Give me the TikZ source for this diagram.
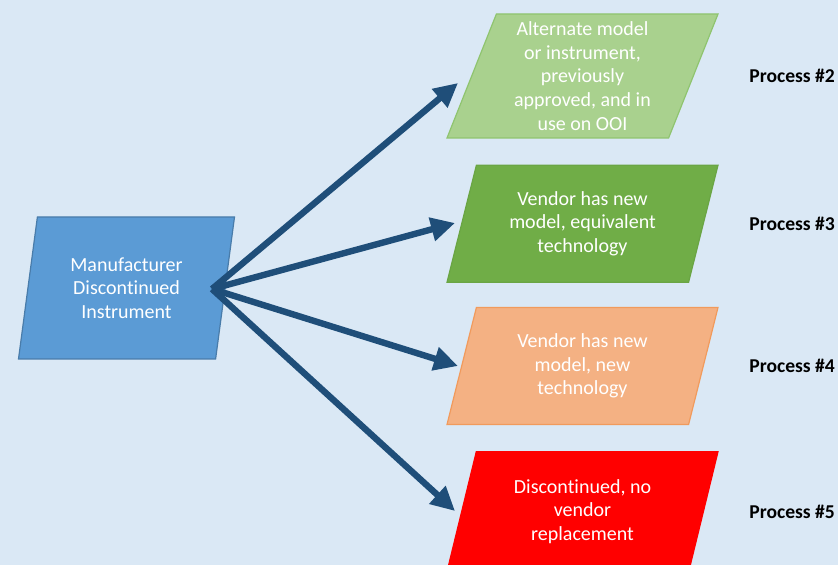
\documentclass[tikz,border=0pt]{standalone}
\usepackage{fontspec}
\setmainfont{Carlito}[Ligatures=NoCommon]
\usepackage{xcolor}
\usetikzlibrary{shapes.geometric,arrows.meta,positioning}
\definecolor{bgblue}{HTML}{DAE8F5}
\definecolor{srcblue}{HTML}{5B9BD5}
\definecolor{arrowblue}{HTML}{1F4E79}
\definecolor{altgreen}{HTML}{A9D18E}
\definecolor{altedge}{HTML}{8FC46F}
\definecolor{eqgreen}{HTML}{70AD47}
\definecolor{eqedge}{HTML}{6AA544}
\definecolor{techorange}{HTML}{F4B183}
\definecolor{techedge}{HTML}{F19A5C}
\tikzstyle{para} = [trapezium, trapezium stretches body, draw, line width=0.6pt, text=white, align=center, inner sep=0pt, font=\fontsize{10}{11.8}\selectfont]
\tikzstyle{srcbox} = [para, trapezium left angle=72.8, trapezium right angle=107.2, minimum width=108pt, minimum height=71pt]
\tikzstyle{optbox} = [para, trapezium left angle=65.5, trapezium right angle=114.5, minimum width=135.5pt, minimum height=58.5pt]
\tikzstyle{proc} = [font=\fontsize{9.8}{12}\selectfont\bfseries, inner sep=0pt]
\tikzstyle{line} = [draw, arrowblue, line width=3.2pt, -{Triangle[length=12pt,width=11.5pt]}]

\begin{document}
\begin{tikzpicture}[x=0.5pt, y=-0.5pt]
\fill [bgblue] (0,0) rectangle (838,565);
\useasboundingbox (0,0) rectangle (838,565);
\node [srcbox, fill=srcblue, draw=srcblue!80!black] (src) at (126.5,288) {Manufacturer\\Discontinued\\Instrument};
\node [optbox, fill=altgreen, draw=altedge, minimum height=62pt] (alt) at (582.5,76) {Alternate model\\or instrument,\\previously\\approved, and in\\use on OOI};
\node [optbox, fill=eqgreen, draw=eqedge, below=13pt of alt] (equiv) {Vendor has new\\model, equivalent\\technology};
\node [optbox, fill=techorange, draw=techedge, below=12pt of equiv] (newtech) {Vendor has new\\model, new\\technology};
\node [optbox, fill=red, draw=red, minimum height=60pt, below=13pt of newtech] (none) {Discontinued, no\\vendor\\replacement};
% process labels
\node [proc, right=83.25pt of alt.center] (p2) {Process \#2};
\node [proc, right=83.25pt of equiv.center] (p3) {Process \#3};
\node [proc, right=83.25pt of newtech.center] (p4) {Process \#4};
\node [proc, right=83.25pt of none.center] (p5) {Process \#5};
% arrows fan out from the right edge of the source box
\coordinate (hub) at (212,289);
\coordinate (altin) at (458,83);
\coordinate (equivin) at (455,223);
\coordinate (newtechin) at (458,366);
\coordinate (nonein) at (455,511);
\path [line] (hub) -- (altin);
\path [line] (hub) -- (equivin);
\path [line] (hub) -- (newtechin);
\path [line] (hub) -- (nonein);
\end{tikzpicture}
\end{document}
